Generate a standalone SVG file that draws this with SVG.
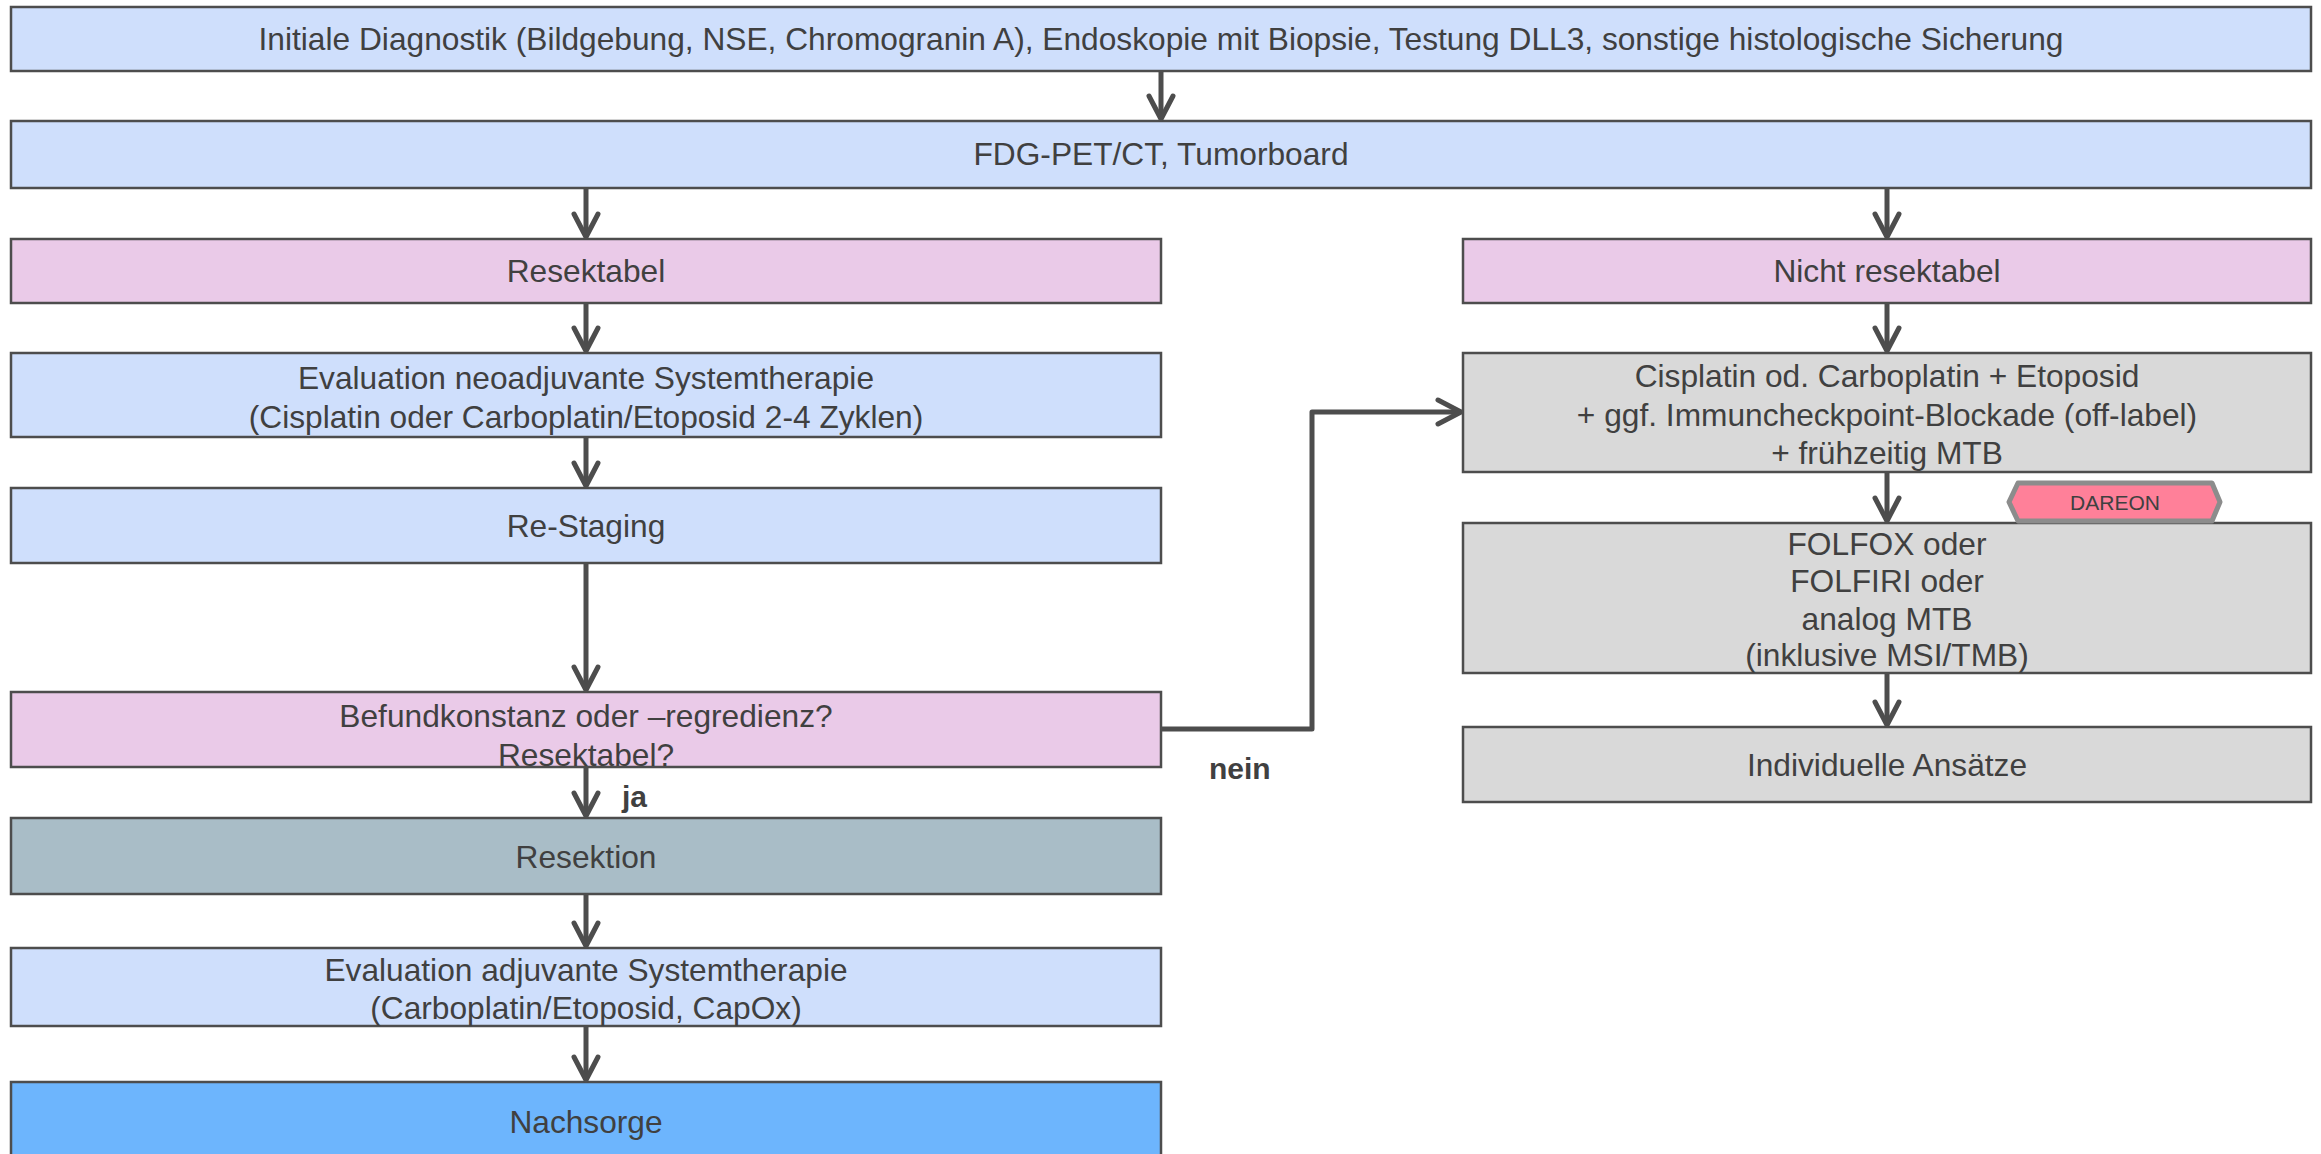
<svg xmlns="http://www.w3.org/2000/svg" width="2321" height="1154" viewBox="0 0 2321 1154">
<style>
.box{stroke:#4d4d4d;stroke-width:2.5}
.blue{fill:#cfdffc}
.pink{fill:#eacae8}
.gray{fill:#d9d9d9}
.slate{fill:#a9bdc7}
.nach{fill:#6db5fd}
text{font-family:"Liberation Sans",Arial,sans-serif;font-size:31.7px;fill:#404040;text-anchor:middle}
.lbl{font-weight:bold;text-anchor:start;font-size:30px}
.con{fill:none;stroke:#4d4d4d;stroke-width:5;stroke-linejoin:round}
</style>
<defs>
<marker id="ah" markerUnits="userSpaceOnUse" markerWidth="40" markerHeight="40" viewBox="-30 -20 40 40" refX="0" refY="0" orient="auto">
<path d="M-23,-12 L0,0 L-23,12" fill="none" stroke="#4d4d4d" stroke-width="5" stroke-linecap="round" stroke-linejoin="round"/>
</marker>
</defs>
<rect width="2321" height="1154" fill="#ffffff"/>
<g id="n-initial"><rect class="box blue" x="11" y="7" width="2300" height="64"/><text x="1161" y="50">Initiale Diagnostik (Bildgebung, NSE, Chromogranin A), Endoskopie mit Biopsie, Testung DLL3, sonstige histologische Sicherung</text></g>
<g id="n-fdg"><rect class="box blue" x="11" y="121" width="2300" height="67"/><text x="1161" y="165">FDG-PET/CT, Tumorboard</text></g>
<g id="n-resektabel"><rect class="box pink" x="11" y="239" width="1150" height="64"/><text x="586" y="282">Resektabel</text></g>
<g id="n-neoadj"><rect class="box blue" x="11" y="353" width="1150" height="84"/><text x="586" y="389">Evaluation neoadjuvante Systemtherapie</text><text x="586" y="428">(Cisplatin oder Carboplatin/Etoposid 2-4 Zyklen)</text></g>
<g id="n-restaging"><rect class="box blue" x="11" y="488" width="1150" height="75"/><text x="586" y="537">Re-Staging</text></g>
<g id="n-befund"><rect class="box pink" x="11" y="692" width="1150" height="75"/><text x="586" y="727">Befundkonstanz oder –regredienz?</text><text x="586" y="766">Resektabel?</text></g>
<g id="n-resektion"><rect class="box slate" x="11" y="818" width="1150" height="76"/><text x="586" y="868">Resektion</text></g>
<g id="n-adj"><rect class="box blue" x="11" y="948" width="1150" height="78"/><text x="586" y="981">Evaluation adjuvante Systemtherapie</text><text x="586" y="1019">(Carboplatin/Etoposid, CapOx)</text></g>
<g id="n-nachsorge"><rect class="box nach" x="11" y="1082" width="1150" height="80"/><text x="586" y="1133">Nachsorge</text></g>
<g id="n-nichtres"><rect class="box pink" x="1463" y="239" width="848" height="64"/><text x="1887" y="282">Nicht resektabel</text></g>
<g id="n-cisplatin"><rect class="box gray" x="1463" y="353" width="848" height="119"/><text x="1887" y="387">Cisplatin od. Carboplatin + Etoposid</text><text x="1887" y="426">+ ggf. Immuncheckpoint-Blockade (off-label)</text><text x="1887" y="464">+ frühzeitig MTB</text></g>
<g id="n-folfox"><rect class="box gray" x="1463" y="523" width="848" height="150"/><text x="1887" y="555">FOLFOX oder</text><text x="1887" y="592">FOLFIRI oder</text><text x="1887" y="630">analog MTB</text><text x="1887" y="666">(inklusive MSI/TMB)</text></g>
<g id="n-indiv"><rect class="box gray" x="1463" y="727" width="848" height="75"/><text x="1887" y="776">Individuelle Ansätze</text></g>
<g id="n-dareon"><polygon points="2009,502 2018,483 2212,483 2220,502 2212,521 2018,521" fill="#ff8099" stroke="#8c8c8c" stroke-width="5" stroke-linejoin="round"/><text x="2115" y="510" style="font-size:21px">DAREON</text></g>
<g id="connectors">
<path class="con" d="M1161,71 V119" marker-end="url(#ah)"/>
<path class="con" d="M586,188 V237" marker-end="url(#ah)"/>
<path class="con" d="M1887,188 V237" marker-end="url(#ah)"/>
<path class="con" d="M586,303 V351" marker-end="url(#ah)"/>
<path class="con" d="M586,437 V486" marker-end="url(#ah)"/>
<path class="con" d="M586,563 V690" marker-end="url(#ah)"/>
<path class="con" d="M586,767 V816" marker-end="url(#ah)"/>
<path class="con" d="M586,894 V946" marker-end="url(#ah)"/>
<path class="con" d="M586,1026 V1080" marker-end="url(#ah)"/>
<path class="con" d="M1887,303 V351" marker-end="url(#ah)"/>
<path class="con" d="M1887,472 V521" marker-end="url(#ah)"/>
<path class="con" d="M1887,673 V725" marker-end="url(#ah)"/>
<path class="con" d="M1162,729 H1312 V412 H1461" marker-end="url(#ah)"/>
<text class="lbl" x="622" y="807">ja</text>
<text class="lbl" x="1209" y="779">nein</text>
</g>
</svg>
